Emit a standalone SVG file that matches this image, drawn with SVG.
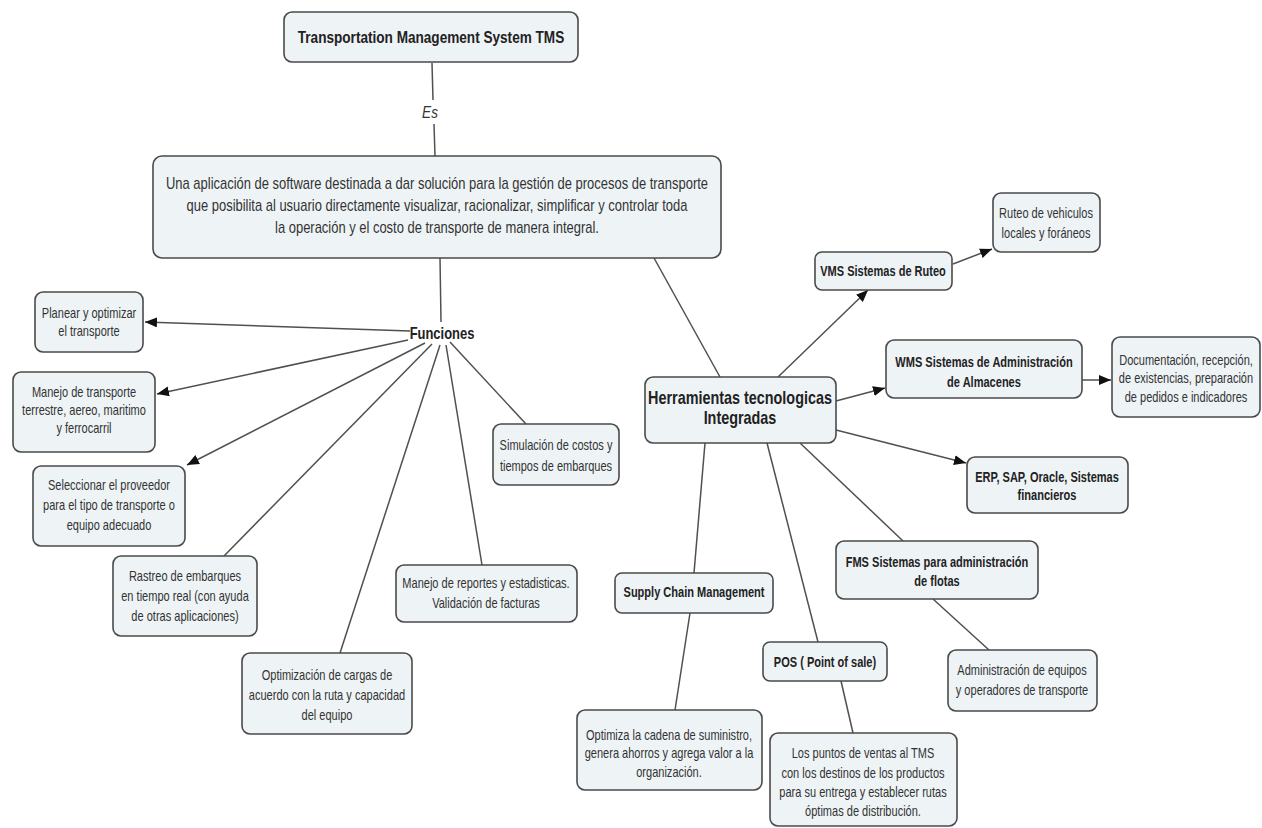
<svg xmlns="http://www.w3.org/2000/svg" width="1262" height="828" viewBox="0 0 1262 828">
<style>
.box{fill:#eef3f6;stroke:#4a4a4a;stroke-width:1.6}
.t{font-family:"Liberation Sans",Arial,sans-serif;font-size:13.8px;fill:#333;text-anchor:middle}
.b{font-family:"Liberation Sans",Arial,sans-serif;font-size:13.8px;font-weight:bold;fill:#222;text-anchor:middle}
.main{font-size:16.2px}
.ttl{font-size:17px}
.herr{font-size:18px}
.fun{font-size:16.2px}
.es{font-family:"Liberation Sans",Arial,sans-serif;font-size:17px;font-style:italic;fill:#333;text-anchor:middle}
.c line{stroke:#505050;stroke-width:1.5;fill:none}
.c .ar{marker-end:url(#ah)}
</style>
<defs>
<marker id="ah" markerUnits="userSpaceOnUse" markerWidth="13" markerHeight="11" refX="12" refY="5" orient="auto">
<path d="M0,0 L12,5 L0,10 z" fill="#111"/>
</marker>
</defs>
<rect width="1262" height="828" fill="#fff"/>

<g id="connectors" class="c">
<line x1="432" y1="63" x2="433" y2="100"/>
<line x1="434" y1="124" x2="435" y2="156"/>
<line x1="440" y1="258" x2="441" y2="322"/>
<line x1="654" y1="258" x2="720" y2="377"/>
<line class="ar" x1="410" y1="331" x2="145" y2="322"/>
<line class="ar" x1="408" y1="340" x2="157" y2="394"/>
<line class="ar" x1="425" y1="343" x2="187" y2="465"/>
<line x1="432" y1="344" x2="224" y2="556"/>
<line x1="440" y1="345" x2="340" y2="653"/>
<line x1="446" y1="345" x2="482" y2="565"/>
<line x1="450" y1="342" x2="526" y2="424"/>
<line class="ar" x1="778" y1="377" x2="868" y2="290"/>
<line class="ar" x1="953" y1="264" x2="992" y2="249"/>
<line class="ar" x1="836" y1="401" x2="885" y2="388"/>
<line class="ar" x1="1082" y1="380" x2="1111" y2="380"/>
<line class="ar" x1="836" y1="430" x2="966" y2="463"/>
<line x1="800" y1="443" x2="903" y2="541"/>
<line x1="933" y1="599" x2="989" y2="650"/>
<line x1="705" y1="443" x2="694" y2="573"/>
<line x1="690" y1="613" x2="675" y2="710"/>
<line x1="767" y1="443" x2="818" y2="642"/>
<line x1="841" y1="681" x2="853" y2="733"/>
</g>

<g id="es-label"><g transform="translate(430,0) scale(0.8,1)"><text class="es" x="0" y="118">Es</text></g></g>

<g id="n-title">
<rect class="box" x="284" y="12" width="294" height="50" rx="8"/>
<g transform="translate(431,0) scale(0.8,1)"><text class="b ttl" x="0" y="43">Transportation Management System TMS</text></g>
</g>

<g id="n-main">
<rect class="box" x="153" y="156" width="568" height="102" rx="9"/>
<g transform="translate(437,0) scale(0.8,1)">
<text class="t main" x="0" y="189">Una aplicación de software destinada a dar solución para la gestión de procesos de transporte</text>
<text class="t main" x="0" y="211">que posibilita al usuario directamente visualizar, racionalizar, simplificar y controlar toda</text>
<text class="t main" x="0" y="233">la operación y el costo de transporte de manera integral.</text>
</g>
</g>

<g id="n-funciones">
<g transform="translate(442,0) scale(0.8,1)"><text class="b fun" x="0" y="339">Funciones</text></g>
</g>

<g id="n-planear">
<rect class="box" x="35" y="292" width="108" height="60" rx="8"/>
<g transform="translate(89,0) scale(0.8,1)">
<text class="t" x="0" y="318">Planear y optimizar</text>
<text class="t" x="0" y="336">el transporte</text>
</g>
</g>

<g id="n-manejo">
<rect class="box" x="13" y="372" width="142" height="80" rx="8"/>
<g transform="translate(84,0) scale(0.8,1)">
<text class="t" x="0" y="397">Manejo de transporte</text>
<text class="t" x="0" y="415">terrestre, aereo, maritimo</text>
<text class="t" x="0" y="433">y ferrocarril</text>
</g>
</g>

<g id="n-seleccionar">
<rect class="box" x="33" y="466" width="152" height="80" rx="8"/>
<g transform="translate(109,0) scale(0.8,1)">
<text class="t" x="0" y="490">Seleccionar el proveedor</text>
<text class="t" x="0" y="510">para el tipo de transporte o</text>
<text class="t" x="0" y="530">equipo adecuado</text>
</g>
</g>

<g id="n-rastreo">
<rect class="box" x="113" y="556" width="144" height="80" rx="8"/>
<g transform="translate(185,0) scale(0.8,1)">
<text class="t" x="0" y="581">Rastreo de embarques</text>
<text class="t" x="0" y="601">en tiempo real (con ayuda</text>
<text class="t" x="0" y="621">de otras aplicaciones)</text>
</g>
</g>

<g id="n-optimizacion">
<rect class="box" x="242" y="653" width="170" height="81" rx="8"/>
<g transform="translate(327,0) scale(0.8,1)">
<text class="t" x="0" y="680">Optimización de cargas de</text>
<text class="t" x="0" y="700">acuerdo con la ruta y capacidad</text>
<text class="t" x="0" y="720">del equipo</text>
</g>
</g>

<g id="n-reportes">
<rect class="box" x="396" y="565" width="181" height="57" rx="8"/>
<g transform="translate(486,0) scale(0.8,1)">
<text class="t" x="0" y="588">Manejo de reportes y estadisticas.</text>
<text class="t" x="0" y="608">Validación de facturas</text>
</g>
</g>

<g id="n-simulacion">
<rect class="box" x="493" y="424" width="126" height="61" rx="8"/>
<g transform="translate(556,0) scale(0.8,1)">
<text class="t" x="0" y="450">Simulación de costos y</text>
<text class="t" x="0" y="471">tiempos de embarques</text>
</g>
</g>

<g id="n-herramientas">
<rect class="box" x="645" y="377" width="191" height="66" rx="8"/>
<g transform="translate(740,0) scale(0.8,1)">
<text class="b herr" x="0" y="404">Herramientas tecnologicas</text>
<text class="b herr" x="0" y="424">Integradas</text>
</g>
</g>

<g id="n-vms">
<rect class="box" x="815" y="252" width="137" height="38" rx="7"/>
<g transform="translate(883,0) scale(0.8,1)"><text class="b" x="0" y="276">VMS Sistemas de Ruteo</text></g>
</g>

<g id="n-ruteo">
<rect class="box" x="993" y="193" width="107" height="59" rx="8"/>
<g transform="translate(1046,0) scale(0.8,1)">
<text class="t" x="0" y="218">Ruteo de vehiculos</text>
<text class="t" x="0" y="238">locales y foráneos</text>
</g>
</g>

<g id="n-wms">
<rect class="box" x="886" y="340" width="196" height="58" rx="8"/>
<g transform="translate(984,0) scale(0.8,1)">
<text class="b" x="0" y="367">WMS Sistemas de Administración</text>
<text class="b" x="0" y="387">de Almacenes</text>
</g>
</g>

<g id="n-documentacion">
<rect class="box" x="1112" y="337" width="148" height="80" rx="8"/>
<g transform="translate(1186,0) scale(0.8,1)">
<text class="t" x="0" y="365">Documentación, recepción,</text>
<text class="t" x="0" y="383">de existencias, preparación</text>
<text class="t" x="0" y="402">de pedidos e indicadores</text>
</g>
</g>

<g id="n-erp">
<rect class="box" x="967" y="457" width="161" height="56" rx="8"/>
<g transform="translate(1047,0) scale(0.8,1)">
<text class="b" x="0" y="482">ERP, SAP, Oracle, Sistemas</text>
<text class="b" x="0" y="500">financieros</text>
</g>
</g>

<g id="n-fms">
<rect class="box" x="836" y="541" width="202" height="58" rx="8"/>
<g transform="translate(937,0) scale(0.8,1)">
<text class="b" x="0" y="567">FMS Sistemas para administración</text>
<text class="b" x="0" y="586">de flotas</text>
</g>
</g>

<g id="n-admin">
<rect class="box" x="948" y="650" width="149" height="61" rx="8"/>
<g transform="translate(1022,0) scale(0.8,1)">
<text class="t" x="0" y="675">Administración de equipos</text>
<text class="t" x="0" y="695">y operadores de transporte</text>
</g>
</g>

<g id="n-supply">
<rect class="box" x="615" y="573" width="158" height="40" rx="7"/>
<g transform="translate(694,0) scale(0.8,1)"><text class="b" x="0" y="597">Supply Chain Management</text></g>
</g>

<g id="n-optimiza">
<rect class="box" x="577" y="710" width="185" height="80" rx="8"/>
<g transform="translate(669,0) scale(0.8,1)">
<text class="t" x="0" y="740">Optimiza la cadena de suministro,</text>
<text class="t" x="0" y="758">genera ahorros y agrega valor a la</text>
<text class="t" x="0" y="777">organización.</text>
</g>
</g>

<g id="n-pos">
<rect class="box" x="763" y="642" width="124" height="39" rx="7"/>
<g transform="translate(825,0) scale(0.8,1)"><text class="b" x="0" y="667">POS ( Point of sale)</text></g>
</g>

<g id="n-puntos">
<rect class="box" x="770" y="733" width="187" height="93" rx="8"/>
<g transform="translate(863,0) scale(0.8,1)">
<text class="t" x="0" y="758">Los puntos de ventas al TMS</text>
<text class="t" x="0" y="778">con los destinos de los productos</text>
<text class="t" x="0" y="797">para su entrega y establecer rutas</text>
<text class="t" x="0" y="816">óptimas de distribución.</text>
</g>
</g>
</svg>
